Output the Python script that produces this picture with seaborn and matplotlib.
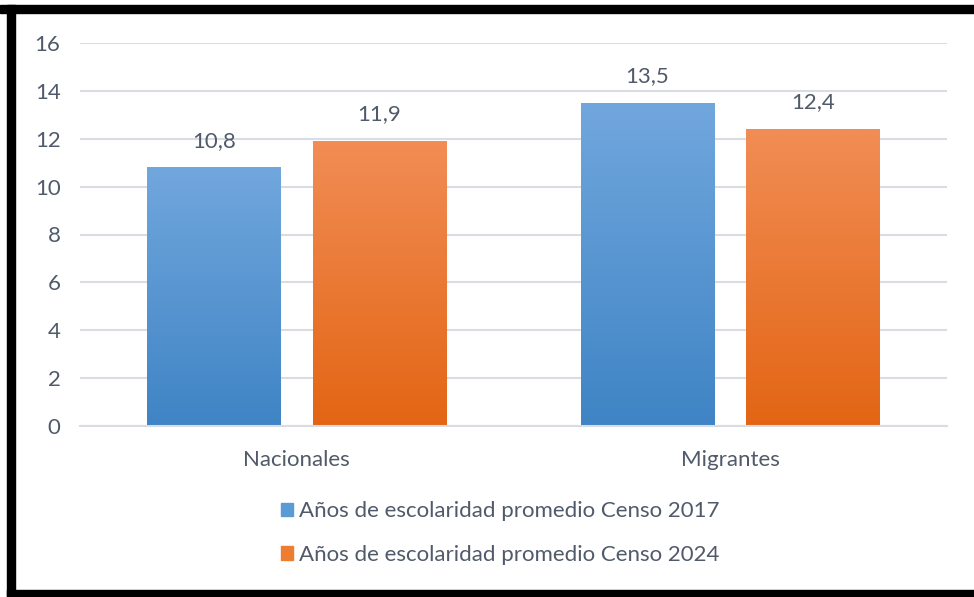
import numpy as np
import pandas as pd
import matplotlib
matplotlib.use("Agg")
import matplotlib.pyplot as plt
import matplotlib.colors as mcolors
import seaborn as sns

categorias = ["Nacionales", "Migrantes"]
serie_2017 = [10.8, 13.5]
serie_2024 = [11.9, 12.4]
nombres = ["Años de escolaridad promedio Censo 2017",
           "Años de escolaridad promedio Censo 2024"]

df = pd.DataFrame({
    "categoria": categorias * 2,
    "valor": serie_2017 + serie_2024,
    "serie": [nombres[0]] * 2 + [nombres[1]] * 2,
})

sns.set_theme(style="white")
plt.rcParams["font.family"] = ["Lato", "DejaVu Sans"]
texto = "#505a6a"
fs = 16

fig = plt.figure(figsize=(9.74, 5.97), dpi=100)
ax = fig.add_axes([80 / 974, 1 - 426 / 597, 867 / 974, 383 / 597])

sns.barplot(data=df, x="categoria", y="valor", hue="serie",
            palette=["#5b9bd5", "#ed7d31"], width=0.764, gap=0.196,
            ax=ax, legend=True)

# degradado vertical en cada barra
grad = {0: ("#71a7dd", "#3f84c5"), 1: ("#f18d55", "#e36514")}
for i, cont in enumerate(ax.containers):
    top, bot = grad[i]
    cmap = mcolors.LinearSegmentedColormap.from_list("g", [bot, top])
    for bar in cont:
        x0, w = bar.get_x(), bar.get_width()
        h = bar.get_height()
        bar.set_facecolor("none")
        bar.set_edgecolor("none")
        img = ax.imshow(np.linspace(0, 1, 256).reshape(-1, 1), cmap=cmap,
                        origin="lower", extent=[x0, x0 + w, 0, h],
                        aspect="auto", zorder=2)
        img.set_clip_path(bar)
    ax.bar_label(cont, labels=[f"{v:.1f}".replace(".", ",") for v in cont.datavalues],
                 padding=12, fontsize=fs, color=texto)

ax.set_xlim(-0.5, 1.5)
ax.set_ylim(0, 16)
ax.set_yticks(range(0, 17, 2))
ax.yaxis.grid(True, color="#d9dde3", linewidth=1.5)
ax.set_axisbelow(True)
for s in ["top", "right", "left"]:
    ax.spines[s].set_visible(False)
ax.spines["bottom"].set_color("#d9dde3")
ax.spines["bottom"].set_linewidth(1.5)
ax.tick_params(axis="y", length=0, pad=14, labelsize=fs, labelcolor=texto)
ax.tick_params(axis="x", length=0, pad=17, labelsize=fs, labelcolor=texto)
ax.set_xlabel("")
ax.set_ylabel("")

handles = [plt.Rectangle((0, 0), 1, 1, color=c) for c in ["#5b9bd5", "#ed7d31"]]
ax.legend(handles, nombres, loc="center", bbox_to_anchor=(500 / 974, 1 - 533 / 597),
          bbox_transform=fig.transFigure, frameon=False, ncol=1, fontsize=fs,
          labelcolor=texto, handlelength=0.55, handleheight=0.55, handletextpad=0.25,
          labelspacing=1.05)

# marco negro del recorte
fig.patches.append(plt.Rectangle((0, 1 - 13 / 597), 1, 8 / 597, color="black",
                                 transform=fig.transFigure))
fig.patches.append(plt.Rectangle((7 / 974, 0), 8 / 974, 1 - 5 / 597, color="black",
                                 transform=fig.transFigure))
fig.patches.append(plt.Rectangle((7 / 974, 1 / 597), 1, 6 / 597, color="black",
                                 transform=fig.transFigure))

fig.savefig("out.png", dpi=100)
